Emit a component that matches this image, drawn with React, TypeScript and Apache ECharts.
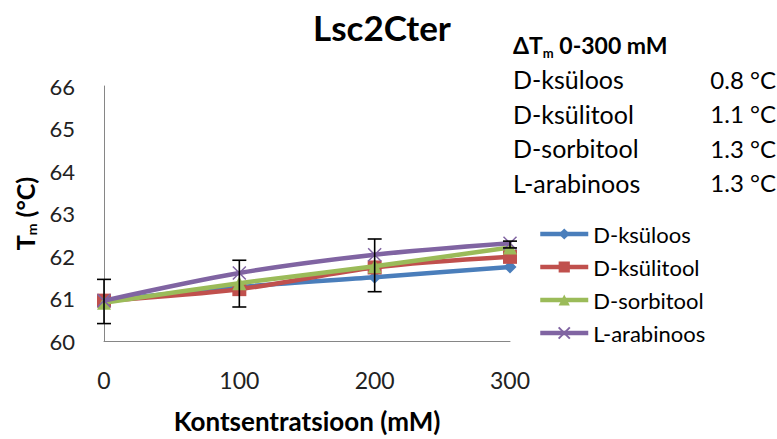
import React, { useEffect, useRef } from "react";
import * as echarts from "echarts";

const concentrations = [0, 100, 200, 300];
const seriesNames = ["D-ksüloos", "D-ksülitool", "D-sorbitool", "L-arabinoos"];
const ksuloos = [60.95, 61.27, 61.5, 61.74];
const ksulitool = [60.95, 61.22, 61.73, 61.98];
const sorbitool = [60.9, 61.36, 61.76, 62.2];
const arabinoos = [60.95, 61.6, 62.03, 62.3];
const errCenter = [60.93, 61.35, 61.78, 62.27];
const errHalf = [0.52, 0.55, 0.62, 0.08];
const yTicks = [60, 61, 62, 63, 64, 65, 66];
const deltaLabels = ["D-ksüloos", "D-ksülitool", "D-sorbitool", "L-arabinoos"];
const deltaValues = ["0.8 °C", "1.1 °C", "1.3 °C", "1.3 °C"];

const colors = ["#4A7EBB", "#C0504D", "#9BBB59", "#8064A2"];
const symbols = [
  "diamond",
  "rect",
  "triangle",
  "path://M0,0 L10,10 M10,0 L0,10",
];
const symbolSizes = [13, 14, 14, 13];
const FONT = "Lato, 'Open Sans', sans-serif";

export default function App() {
  const ref = useRef<HTMLDivElement>(null);
  useEffect(() => {
    document.body.style.margin = "0";
    if (!ref.current) return;
    const chart = echarts.init(ref.current, undefined, { renderer: "svg" });
    const allData = [ksuloos, ksulitool, sorbitool, arabinoos];
    const lineSeries = allData.map((vals, i) => ({
      type: "line",
      name: seriesNames[i],
      data: vals.map((v, j) => [concentrations[j], v]),
      smooth: 0.3,
      symbol: symbols[i],
      symbolSize: symbolSizes[i],
      lineStyle: { color: colors[i], width: 4.5 },
      itemStyle:
        i === 3
          ? { color: colors[i], borderColor: colors[i], borderWidth: 1.5 }
          : { color: colors[i] },
      z: 2 + i,
    }));
    const errData = concentrations.map((c, j) => [
      c,
      errCenter[j] - errHalf[j],
      errCenter[j] + errHalf[j],
    ]);
    const errSeries = {
      type: "custom",
      name: "err",
      data: errData,
      z: 10,
      renderItem: (params: any, api: any) => {
        const x = api.value(0);
        const lo = api.coord([x, api.value(1)]);
        const hi = api.coord([x, api.value(2)]);
        const w = 7;
        const style = { stroke: "#000", lineWidth: 1.6 };
        return {
          type: "group",
          children: [
            { type: "line", shape: { x1: lo[0], y1: lo[1], x2: hi[0], y2: hi[1] }, style },
            { type: "line", shape: { x1: lo[0] - w, y1: lo[1], x2: lo[0] + w, y2: lo[1] }, style },
            { type: "line", shape: { x1: hi[0] - w, y1: hi[1], x2: hi[0] + w, y2: hi[1] }, style },
          ],
        };
      },
    };
    const graphics: any[] = [
      {
        type: "text",
        left: 513,
        top: 33,
        style: {
          text: "{b|ΔT}{s|m}{b| 0-300 mM}",
          rich: {
            b: { fontFamily: FONT, fontSize: 23, fontWeight: "bold", fill: "#000" },
            s: { fontFamily: FONT, fontSize: 13, fontWeight: "bold", fill: "#000", verticalAlign: "bottom", padding: [17, 0, 0, 0] },
          },
        },
      },
    ];
    deltaLabels.forEach((lab, i) => {
      const cy = 79 + i * 34.5;
      graphics.push({
        type: "text",
        x: 513,
        y: cy,
        style: { text: lab, fontFamily: FONT, fontSize: 25, fill: "#000", verticalAlign: "middle", align: "left" },
      });
      graphics.push({
        type: "text",
        x: 776,
        y: cy,
        style: { text: deltaValues[i], fontFamily: FONT, fontSize: 24, fill: "#000", verticalAlign: "middle", align: "right" },
      });
    });
    chart.setOption({
      animation: false,
      title: {
        text: "Lsc2Cter",
        left: 377,
        textAlign: "center",
        top: 4,
        textStyle: { fontFamily: FONT, fontSize: 35, fontWeight: "bold", color: "#000" },
      },
      grid: { left: 104, right: 267, top: 86, bottom: 92 },
      xAxis: {
        type: "value",
        min: 0,
        max: 300,
        interval: 100,
        name: "Kontsentratsioon (mM)",
        nameLocation: "middle",
        nameGap: 67,
        nameTextStyle: { fontFamily: FONT, fontSize: 26, fontWeight: "bold", color: "#000" },
        axisLine: { lineStyle: { color: "#868686", width: 1 } },
        axisTick: { show: false },
        splitLine: { show: false },
        axisLabel: { fontFamily: FONT, fontSize: 23, color: "#222", margin: 27 },
      },
      yAxis: {
        type: "value",
        min: yTicks[0],
        max: yTicks[yTicks.length - 1],
        interval: 1,
        name: "{b|T}{s|m}{b| (°C)}",
        nameLocation: "middle",
        nameGap: 64,
        nameRotate: 90,
        nameTextStyle: {
          rich: {
            b: { fontFamily: FONT, fontSize: 25, fontWeight: "bold", color: "#000" },
            s: { fontFamily: FONT, fontSize: 14, fontWeight: "bold", color: "#000", verticalAlign: "bottom", padding: [14, 0, 0, 0] },
          },
        },
        axisLine: { show: true, lineStyle: { color: "#868686", width: 1 } },
        axisTick: { show: false },
        splitLine: { show: false },
        axisLabel: { fontFamily: FONT, fontSize: 22, color: "#222", margin: 29 },
      },
      legend: {
        data: seriesNames,
        orient: "vertical",
        left: 533,
        top: 218,
        itemWidth: 48,
        itemHeight: 14,
        itemGap: 11,
        lineStyle: { width: 4.5 },
        textStyle: { fontFamily: FONT, fontSize: 22, color: "#000", lineHeight: 22 },
      },
      graphic: graphics,
      series: [...lineSeries, errSeries],
    });
    return () => chart.dispose();
  }, []);
  return <div ref={ref} style={{ width: 777, height: 439 }} />;
}
